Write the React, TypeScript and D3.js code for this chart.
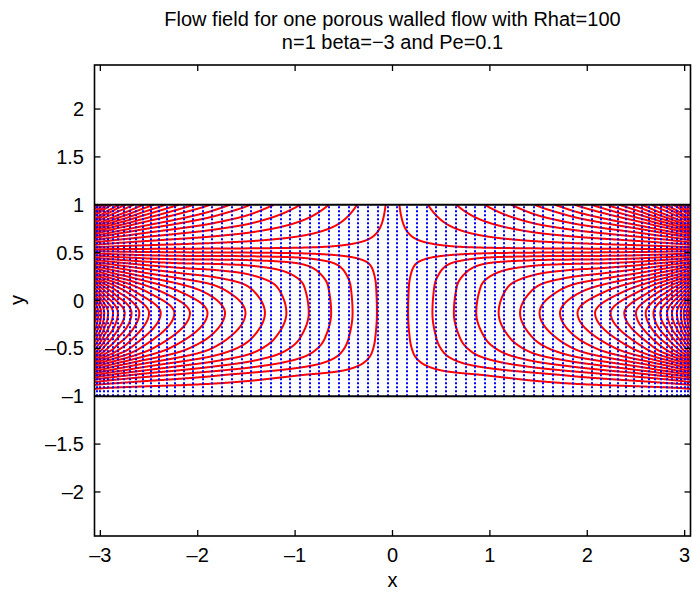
import React, { useMemo } from "react";
import * as d3 from "d3";

const W = 692;
const H = 596;
const X_DOMAIN: [number, number] = [-3.06, 3.06];
const Y_DOMAIN: [number, number] = [-2.46, 2.46];
const X_TICKS = [-3, -2, -1, 0, 1, 2, 3];
const Y_TICKS = [-2, -1.5, -1, -0.5, 0, 0.5, 1, 1.5, 2];
const WALLS = [-1, 1];
const TITLE_LINES = ["Flow field for one porous walled flow with Rhat=100", "n=1 beta=\u22123 and Pe=0.1"];

// red streamlines, lower family: x of each curve's nose (right half, mirrored)
const LOWER_VERTEX_X = [0.16, 0.41, 0.63, 0.86, 1.09, 1.31, 1.51, 1.72, 1.9, 2.08, 2.24, 2.38, 2.5, 2.6, 2.68, 2.75, 2.82, 2.87, 2.92, 2.96, 2.99, 3.02, 3.045];
const LEVEL_OFFSET = 0.65;
// red streamlines, upper family: x where each curve meets the wall y=1
const UPPER_WALL_X = [0.07, 0.365, 0.656, 0.947, 1.22, 1.46, 1.665, 1.87, 2.04, 2.195, 2.33, 2.45, 2.555, 2.66, 2.74, 2.81, 2.88, 2.93, 2.97, 3.01, 3.04];
// cross-channel profile near the centre (x = 0)
const PROFILE_Y_C = [-1.0, -0.92, -0.85, -0.78, -0.72, -0.65, -0.55, -0.4, -0.13, 0.15, 0.3, 0.38, 0.44, 0.49, 0.53, 0.6, 0.7, 0.85, 1.0];
const PROFILE_G_C = [0, 0.03, 0.07, 0.16, 0.35, 0.55, 0.75, 0.9, 1.0, 0.95, 0.82, 0.68, 0.45, 0.18, 0, -0.15, -0.33, -0.57, -0.78];
// cross-channel profile near the side edges
const PROFILE_Y_E = [-1.0, -0.92, -0.85, -0.7, -0.5, -0.13, 0.1, 0.3, 0.53, 0.7, 0.85, 1.0];
const PROFILE_G_E = [0, 0.03, 0.12, 0.42, 0.78, 1.0, 0.8, 0.45, 0, -0.3, -0.55, -0.78];
// blend weight between the two profiles along x
const BLEND_X = [0, 0.8, 1.5, 2.2, 3.06];
const BLEND_W = [0, 0, 0.4, 0.8, 1];
// blue dotted lines (right half, mirrored)
const BLUE_X = [0.05, 0.15, 0.25, 0.35, 0.45, 0.55, 0.65, 0.75, 0.85, 0.95, 1.05, 1.15, 1.25, 1.35, 1.45, 1.55, 1.65, 1.75, 1.85, 1.95, 2.05, 2.14, 2.23, 2.32, 2.4, 2.48, 2.56, 2.63, 2.7, 2.76, 2.82, 2.87, 2.92, 2.96, 3.0, 3.03];

function monotone(xs: number[], ys: number[]) {
  const n = xs.length;
  const d: number[] = [];
  for (let i = 0; i < n - 1; i++) d.push((ys[i + 1] - ys[i]) / (xs[i + 1] - xs[i]));
  const m: number[] = new Array(n);
  m[0] = d[0];
  m[n - 1] = d[n - 2];
  for (let i = 1; i < n - 1; i++) {
    if (d[i - 1] * d[i] <= 0) m[i] = 0;
    else {
      const h0 = xs[i] - xs[i - 1], h1 = xs[i + 1] - xs[i];
      const w1 = 2 * h1 + h0, w2 = h1 + 2 * h0;
      m[i] = (w1 + w2) / (w1 / d[i - 1] + w2 / d[i]);
    }
  }
  return (x: number) => {
    if (x <= xs[0]) return ys[0] + m[0] * (x - xs[0]);
    if (x >= xs[n - 1]) return ys[n - 1] + m[n - 1] * (x - xs[n - 1]);
    const i = Math.min(n - 2, d3.bisectRight(xs, x) - 1);
    const h = xs[i + 1] - xs[i], t = (x - xs[i]) / h;
    const t2 = t * t, t3 = t2 * t;
    return (2 * t3 - 3 * t2 + 1) * ys[i] + (t3 - 2 * t2 + t) * h * m[i] + (-2 * t3 + 3 * t2) * ys[i + 1] + (t3 - t2) * h * m[i + 1];
  };
}

export default function App() {
  const margin = { left: 94.5, right: 690.5, top: 65, bottom: 536 };
  const x = d3.scaleLinear().domain(X_DOMAIN).range([margin.left, margin.right]);
  const y = d3.scaleLinear().domain(Y_DOMAIN).range([margin.bottom, margin.top]);

  const { redPaths, bluePaths } = useMemo(() => {
    const Hf = monotone([0, ...LOWER_VERTEX_X], [0, ...LOWER_VERTEX_X.map((_, k) => k + LEVEL_OFFSET)]);
    const Gc = monotone(PROFILE_Y_C, PROFILE_G_C);
    const Ge = monotone(PROFILE_Y_E, PROFILE_G_E);
    const Wf = monotone(BLEND_X, BLEND_W);
    const XMAX = 3.4;
    const NX = 1400;
    const xg = new Float64Array(NX + 1), hg = new Float64Array(NX + 1), wg = new Float64Array(NX + 1);
    for (let i = 0; i <= NX; i++) {
      const xv = (i / NX) * XMAX;
      xg[i] = xv;
      hg[i] = Hf(xv);
      wg[i] = Math.max(0, Math.min(1, Wf(Math.min(xv, 3.06))));
    }
    const psiAt = (i: number, gc: number, ge: number) => hg[i] * ((1 - wg[i]) * gc + wg[i] * ge);
    const NY = 3000;
    const lowerLevels = LOWER_VERTEX_X.map((_, k) => k + LEVEL_OFFSET);
    const upperLevels = UPPER_WALL_X.map((xt) => {
      const i = Math.round((xt / XMAX) * NX);
      return psiAt(i, Gc(1), Ge(1));
    });
    const levels = [...lowerLevels, ...upperLevels];
    const segs: [number, number][][][] = levels.map(() => [[]]);
    const row = new Float64Array(NX + 1);
    for (let j = 0; j <= NY; j++) {
      const yv = -1 + (2 * j) / NY;
      const gc = Gc(yv), ge = Ge(yv);
      for (let i = 0; i <= NX; i++) row[i] = psiAt(i, gc, ge);
      levels.forEach((c, li) => {
        const s = Math.sign(c);
        const target = Math.abs(c);
        // find first crossing where |psi| >= target with correct sign
        let found = -1;
        if (s * row[NX] >= target) {
          let lo = 0, hi = NX;
          while (hi - lo > 1) {
            const mid = (lo + hi) >> 1;
            if (s * row[mid] >= target) hi = mid;
            else lo = mid;
          }
          found = hi;
        }
        const list = segs[li];
        if (found > 0) {
          const a = s * row[found - 1], b = s * row[found];
          const t = b === a ? 0 : (target - a) / (b - a);
          const xv = xg[found - 1] + t * (xg[found] - xg[found - 1]);
          list[list.length - 1].push([xv, yv]);
        } else if (list[list.length - 1].length > 0) {
          list.push([]);
        }
      });
    }
    const line = d3.line<[number, number]>().x((d) => x(d[0])).y((d) => y(d[1]));
    const red: string[] = [];
    segs.forEach((list) =>
      list.forEach((seg) => {
        if (seg.length > 1) {
          red.push(line(seg) as string);
          red.push(line(seg.map((p) => [-p[0], p[1]] as [number, number])) as string);
        }
      })
    );
    const blue: string[] = [];
    BLUE_X.forEach((bx) => {
      [bx, -bx].forEach((v) => {
        const px = Math.round(x(v));
        blue.push(`M${px},${y(-1)}L${px},${y(1)}`);
      });
    });
    return { redPaths: red, bluePaths: blue };
  }, []);

  const font = "'Liberation Sans', Arial, Helvetica, sans-serif";
  const tickLen = 6;
  const fs = 20;
  return (
    <svg width={W} height={H} style={{ position: "absolute", left: 0, top: 0, background: "#fff" }} fontFamily={font}>
      <defs>
        <clipPath id="plotclip">
          <rect x={margin.left} y={margin.top} width={margin.right - margin.left} height={margin.bottom - margin.top} />
        </clipPath>
      </defs>
      <rect x={0} y={0} width={W} height={H} fill="#fff" />
      <g clipPath="url(#plotclip)">
        {redPaths.map((d, i) => (
          <path key={"r" + i} d={d} fill="none" stroke="#ff0000" strokeWidth={2} />
        ))}
        {bluePaths.map((d, i) => (
          <path key={"b" + i} d={d} fill="none" stroke="#0000ff" strokeWidth={2} strokeDasharray="2 2" />
        ))}
        {WALLS.map((w) => (
          <line key={"w" + w} x1={margin.left} x2={margin.right} y1={y(w)} y2={y(w)} stroke="#000" strokeWidth={2} />
        ))}
      </g>
      <rect x={margin.left} y={margin.top} width={margin.right - margin.left} height={margin.bottom - margin.top} fill="none" stroke="#000" strokeWidth={1.6} />
      {X_TICKS.map((t) => (
        <g key={"xt" + t}>
          <line x1={x(t)} x2={x(t)} y1={margin.bottom} y2={margin.bottom - tickLen} stroke="#000" strokeWidth={1.3} />
          <line x1={x(t)} x2={x(t)} y1={margin.top} y2={margin.top + tickLen} stroke="#000" strokeWidth={1.3} />
          <text x={x(t)} y={562} textAnchor="middle" fontSize={fs}>
            {t < 0 ? "\u2013" + Math.abs(t) : String(t)}
          </text>
        </g>
      ))}
      {Y_TICKS.map((t) => (
        <g key={"yt" + t}>
          <line x1={margin.left} x2={margin.left + tickLen} y1={y(t)} y2={y(t)} stroke="#000" strokeWidth={1.3} />
          <line x1={margin.right} x2={margin.right - tickLen} y1={y(t)} y2={y(t)} stroke="#000" strokeWidth={1.3} />
          <text x={84} y={y(t) + 7} textAnchor="end" fontSize={fs}>
            {t < 0 ? "\u2013" + Math.abs(t) : String(t)}
          </text>
        </g>
      ))}
      <text x={392.5} y={587} textAnchor="middle" fontSize={fs}>x</text>
      <text transform={`translate(24,300) rotate(-90)`} textAnchor="middle" fontSize={fs}>y</text>
      {TITLE_LINES.map((s, i) => (
        <text key={"t" + i} x={392.5} y={26 + i * 23} textAnchor="middle" fontSize={fs}>
          {s}
        </text>
      ))}
    </svg>
  );
}
